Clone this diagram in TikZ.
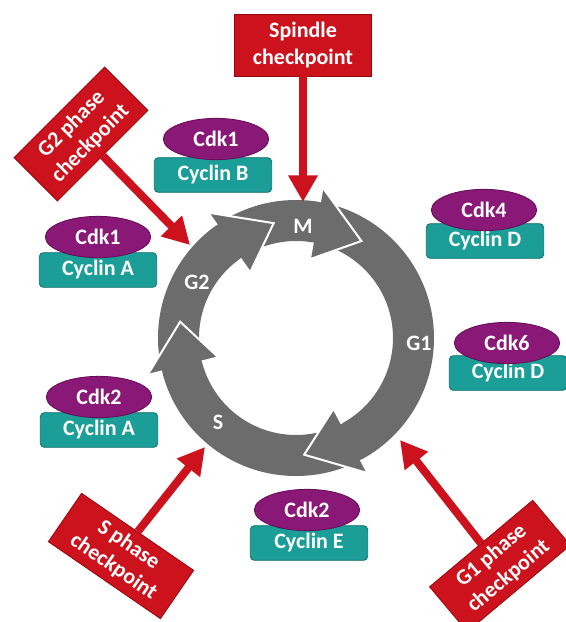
\documentclass[tikz,border=0pt]{standalone}
\usepackage{fontspec}
\setmainfont{Carlito}
\usepackage{tikz}
\usetikzlibrary{arrows.meta,shapes.geometric}

\definecolor{signred}{RGB}{204,18,28}
\definecolor{signdark}{RGB}{150,8,14}
\definecolor{cdkpurple}{RGB}{138,24,118}
\definecolor{cdkdark}{RGB}{100,12,85}
\definecolor{cyclinteal}{RGB}{28,158,152}
\definecolor{cyclindark}{RGB}{14,110,106}
\definecolor{ringgray}{RGB}{108,108,108}

\tikzset{
  boldtext/.style={text=white, font=\fontsize{16.5}{20}\selectfont\bfseries},
  cdk/.style={ellipse, fill=cdkpurple, draw=cdkdark, line width=0.6pt, minimum width=79pt, minimum height=31pt, inner sep=0pt, boldtext},
  cyclin/.style={rectangle, rounded corners=3pt, fill=cyclinteal, draw=cyclindark, line width=0.6pt, minimum width=88pt, minimum height=26pt, inner sep=0pt, boldtext},
  sign/.style={rectangle, fill=signred, draw=signdark, line width=0.6pt, inner sep=0pt, align=center, boldtext},
  checkarrow/.style={draw=signred, line width=6pt, -{Triangle[length=20pt,width=21pt]}},
  phase/.style={boldtext, inner sep=0.75pt},
  headedge/.style={draw=white, line width=1.5pt, line join=miter}
}

% arrow head on the ring: #1 base angle, #2 tip angle
\newcommand{\ringhead}[2]{%
  \fill[ringgray] (#1:153) -- (#2:117) -- (#1:80) -- cycle;
  \draw[headedge] (#1:138) -- (#1:153) -- (#2:117) -- (#1:80) -- (#1:97);
}

\begin{document}
\begin{tikzpicture}[x=0.75pt,y=0.75pt,yscale=-1,xscale=1]
        \useasboundingbox (0,0) rectangle (566,622);

        %Shape: Ring
        \begin{scope}[shift={(296,338)},yscale=-1]
          \fill[ringgray, even odd rule] (0,0) circle (138) (0,0) circle (97);
          %Shape: Arrow heads
          \ringhead{194}{172}
          \ringhead{125}{101}
          \ringhead{80}{56}
          \ringhead{-62}{-86}
        \end{scope}

        % Text Node
        \node[phase] (mlab) at (303,226) {M};
        % Text Node
        \node[phase] (gtwolab) at (197,282) {G2};
        % Text Node
        \node[phase] (gonelab) at (419,343) {G1};
        % Text Node
        \node[phase] (slab) at (218,422) {S};

        %Shape: Complexes
        \node[cyclin] (cycB) at (213,175) {Cyclin B};
        \node[cdk] (cdkoneB) at (216,139) {Cdk1};
        \node[cyclin] (cycAone) at (98,270) {Cyclin A};
        \node[cdk] (cdkoneA) at (98,237) {Cdk1};
        \node[cyclin] (cycAtwo) at (99,430) {Cyclin A};
        \node[cdk] (cdktwoA) at (99,397) {Cdk2};
        \node[cyclin] (cycE) at (309,543) {Cyclin E};
        \node[cdk] (cdktwoE) at (307,510) {Cdk2};
        \node[cyclin] (cycDfour) at (485,241) {Cyclin D};
        \node[cdk] (cdkfour) at (484,210) {Cdk4};
        \node[cyclin] (cycDsix) at (508,373) {Cyclin D};
        \node[cdk] (cdksix) at (507,343) {Cdk6};

        %Shape: Checkpoint signs
        \node[sign, minimum width=103pt, minimum height=46.5pt] (spindle) at (303,45) {Spindle\\checkpoint};
        \node[sign, minimum width=96pt, minimum height=46pt, rotate=45] (gtwocheck) at (81,134) {G2 phase\\checkpoint};
        \node[sign, minimum width=102pt, minimum height=44pt, rotate=-34.5] (scheck) at (121,556) {S phase\\checkpoint};
        \node[sign, minimum width=101pt, minimum height=44pt, rotate=40] (gonecheck) at (500,566) {G1 phase\\checkpoint};

        \coordinate (mtip) at (303,202);
        \coordinate (gtwotip) at (190,245);
        \coordinate (stip) at (205,447);
        \coordinate (gonetip) at (400,440);

        %Straight Lines
        \draw[checkarrow] (spindle.south) -- (mtip);
        %Straight Lines
        \draw[checkarrow] (gtwocheck.south) -- (gtwotip);
        %Straight Lines
        \draw[checkarrow] (scheck.north) -- (stip);
        %Straight Lines
        \draw[checkarrow] (gonecheck.north) -- (gonetip);

\end{tikzpicture}
\end{document}
